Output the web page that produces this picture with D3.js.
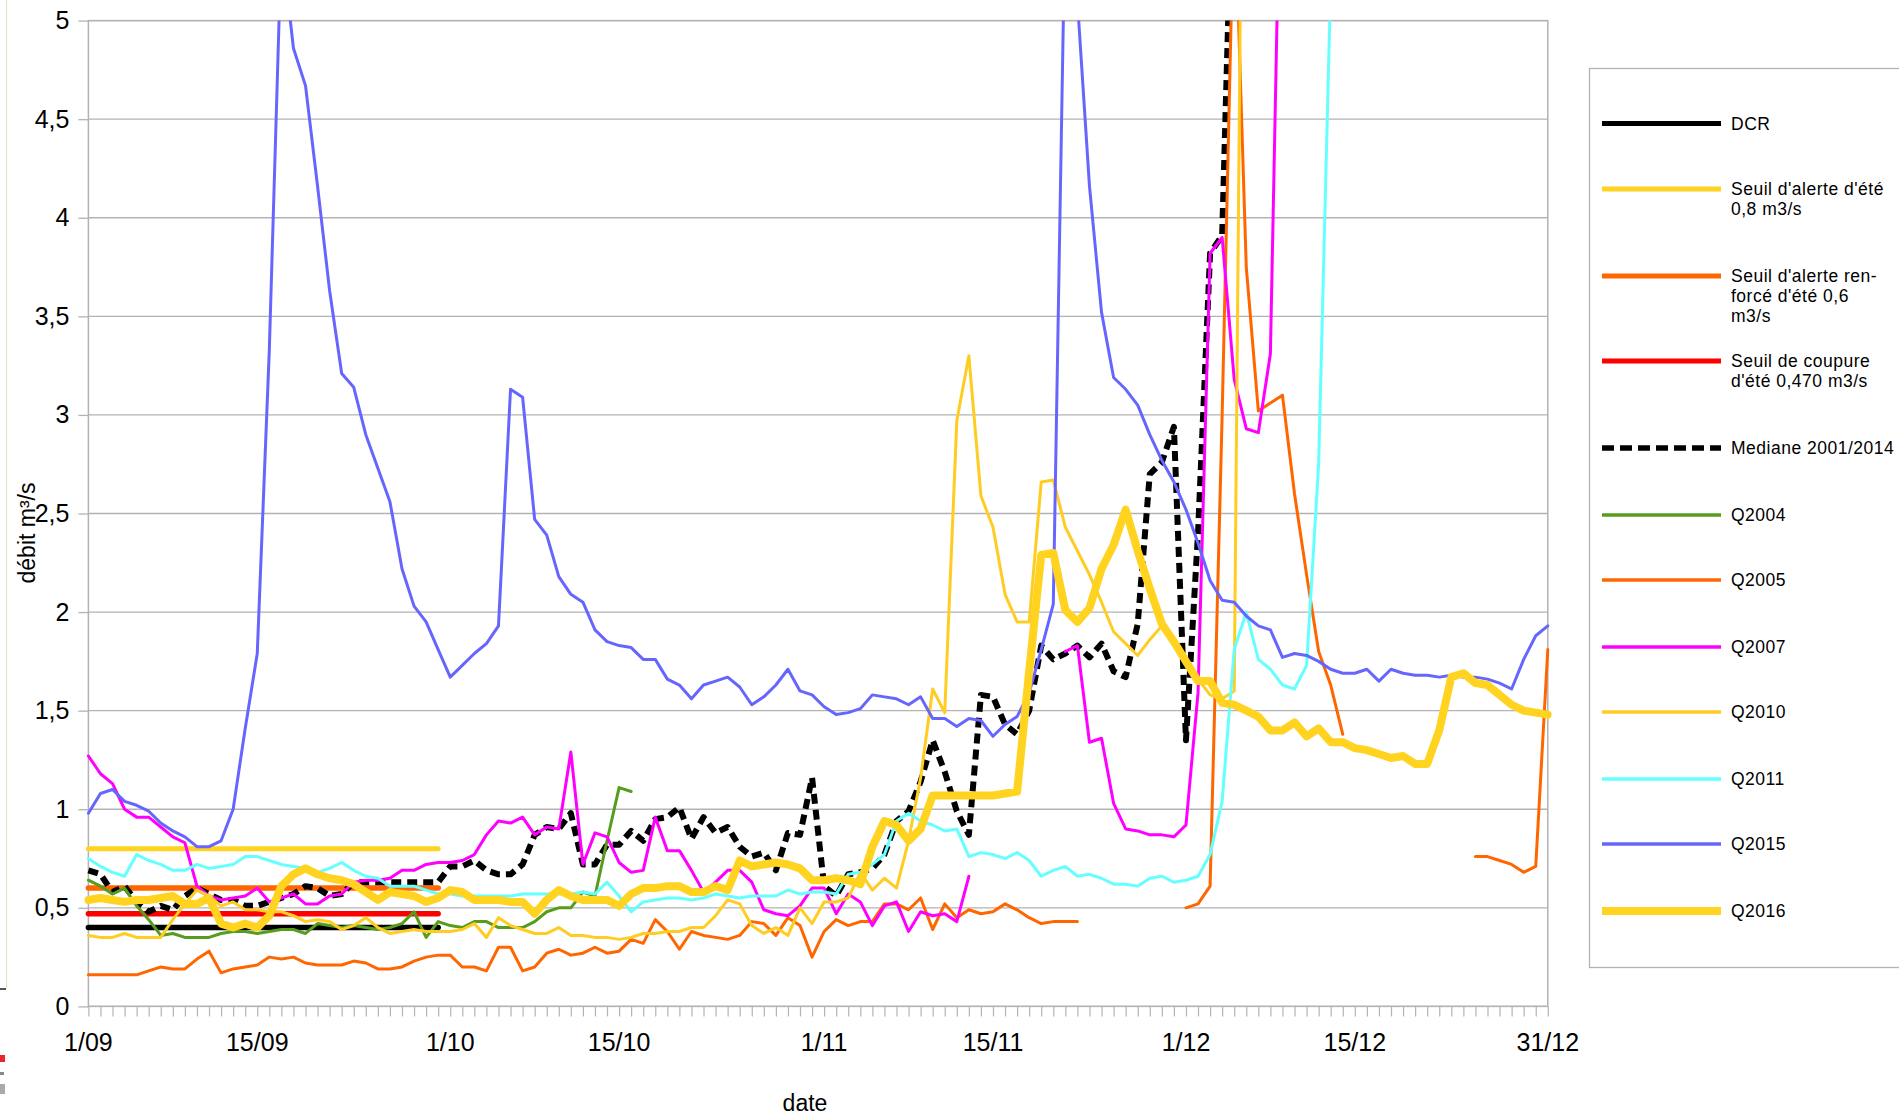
<!DOCTYPE html>
<html><head><meta charset="utf-8">
<script src="https://cdn.jsdelivr.net/npm/d3@7"></script>
<style>body{margin:0;background:#fff}svg{display:block}text{font-family:"Liberation Sans",Arial,sans-serif;fill:#000}</style>
</head><body><svg id="chart" width="1899" height="1117"></svg>
<script>
// ---------------- DATA ----------------
const nDays = 122; // 1/09 .. 31/12
const xTickDays = [0,14,30,44,61,75,91,105,121];
const xTickLabels = ["1/09","15/09","1/10","15/10","1/11","15/11","1/12","15/12","31/12"];
const yTicks = [0,0.5,1,1.5,2,2.5,3,3.5,4,4.5,5];

const thresholdDays = [0,29];
const dcr = [0.4,0.4];
const seuilAlerte = [0.8,0.8];
const seuilRenforce = [0.6,0.6];
const seuilCoupure = [0.47,0.47];

const mediane = [0.69,0.67,0.58,0.61,0.53,0.48,0.51,0.49,0.56,0.60,0.57,0.54,0.54,0.51,0.51,0.53,0.55,0.57,0.61,0.60,0.56,0.57,0.63,0.63,0.63,0.63,0.63,0.63,0.63,0.63,0.71,0.71,
 0.74,0.69,0.67,0.67,0.72,0.87,0.91,0.90,0.98,0.72,0.72,0.82,0.82,0.89,0.84,0.95,0.96,1.01,0.85,0.96,0.88,0.91,0.81,0.76,0.78,0.69,0.88,0.87,1.16,
 0.61,0.56,0.67,0.68,0.70,0.77,0.94,0.99,1.14,1.35,1.19,0.99,0.87,1.58,1.57,1.43,1.38,1.50,1.83,1.76,1.79,1.83,1.77,1.84,1.70,1.67,1.94,2.70,2.76,2.94,1.35,2.40,3.82,3.91,6.1];

const q2004 = [0.64,0.61,0.57,0.60,0.51,0.44,0.36,0.37,0.35,0.35,0.35,0.37,0.38,0.38,0.37,0.38,0.39,0.39,0.37,0.42,0.41,0.40,0.41,0.40,0.39,0.40,0.42,0.48,0.35,0.43,0.41,0.40,0.43,0.43,0.40,0.40,0.40,0.43,0.48,0.50,0.50,0.58,0.56,0.84,1.11,1.09];

const q2005 = [0.16,0.16,0.16,0.16,0.16,0.18,0.20,0.19,0.19,0.24,0.28,0.17,0.19,0.20,0.21,0.25,0.24,0.25,0.22,0.21,0.21,0.21,0.23,0.22,0.19,0.19,0.20,0.23,0.25,0.26,0.26,0.20,
 0.20,0.18,0.30,0.30,0.18,0.20,0.27,0.29,0.26,0.27,0.30,0.27,0.28,0.34,0.32,0.44,0.38,0.29,0.38,0.36,0.35,0.34,0.36,0.43,0.42,0.36,0.45,0.41,0.25,
 0.38,0.44,0.41,0.43,0.43,0.52,0.52,0.49,0.55,0.39,0.52,0.45,0.49,0.47,0.48,0.52,0.49,0.45,0.42,0.43,0.43,0.43,
 null,null,null,null,null,null,null,null,
 0.50,0.52,0.61,3.0,5.7,3.75,3.02,3.06,3.10,2.60,2.19,1.80,1.63,1.38,
 null,null,null,null,null,null,null,null,null,null,
 0.76,0.76,0.74,0.72,0.68,0.71,1.81];

const q2007 = [1.27,1.18,1.13,1.00,0.96,0.96,0.91,0.86,0.83,0.61,0.56,0.54,0.55,0.56,0.60,0.53,0.55,0.57,0.52,0.52,0.56,0.57,0.63,0.64,0.64,0.65,0.69,0.69,0.72,0.73,0.73,0.74,
 0.77,0.87,0.94,0.93,0.96,0.87,0.91,0.90,1.29,0.72,0.88,0.86,0.73,0.68,0.69,0.96,0.79,0.79,0.69,0.58,0.63,0.69,0.69,0.63,0.49,0.47,0.46,0.51,0.60,
 0.60,0.47,0.57,0.53,0.41,0.51,0.53,0.38,0.48,0.46,0.47,0.43,0.66,
 null,null,null,null,null,null,null,
 1.80,1.83,1.34,1.36,1.03,0.90,0.89,0.87,0.87,0.86,0.92,1.59,3.82,3.90,3.18,2.93,2.91,3.31,6.4];

const q2010 = [0.36,0.35,0.35,0.37,0.35,0.35,0.35,0.44,0.52,0.59,0.56,0.51,0.53,0.49,0.49,0.48,0.48,0.46,0.43,0.44,0.43,0.39,0.41,0.45,0.40,0.37,0.38,0.39,0.38,0.38,0.38,0.39,
 0.42,0.35,0.45,0.41,0.39,0.37,0.37,0.40,0.36,0.36,0.35,0.35,0.34,0.35,0.37,0.37,0.38,0.38,0.40,0.40,0.46,0.54,0.52,0.41,0.37,0.40,0.36,0.50,0.42,
 0.53,0.53,0.55,0.68,0.59,0.65,0.60,0.84,1.16,1.61,1.49,
 2.97,3.30,2.59,2.43,2.09,1.95,1.95,2.66,2.67,2.43,2.31,2.19,2.05,1.90,1.84,1.78,1.86,1.93,1.84,1.76,1.66,1.58,1.56,1.60,8.5];

const q2011 = [0.75,0.71,0.68,0.66,0.77,0.74,0.72,0.69,0.69,0.72,0.70,0.71,0.72,0.76,0.76,0.74,0.72,0.71,0.70,0.68,0.70,0.73,0.69,0.66,0.65,0.61,0.61,0.61,0.59,0.57,0.57,0.56,
 0.56,0.56,0.56,0.56,0.57,0.57,0.57,0.57,0.57,0.58,0.57,0.63,0.56,0.48,0.53,0.54,0.55,0.55,0.54,0.55,0.57,0.56,0.55,0.56,0.56,0.56,0.59,0.57,0.58,
 0.58,0.57,0.67,0.68,0.72,0.77,0.94,0.98,0.94,0.92,0.89,0.90,0.76,0.78,0.77,0.75,0.78,0.74,0.66,0.69,0.71,0.66,0.67,0.65,0.62,0.62,0.61,0.65,0.66,0.63,0.64,
 0.66,0.77,1.04,1.81,2.00,1.76,1.71,1.63,1.61,1.73,2.75,5.2,7.0];

const q2015 = [0.98,1.08,1.10,1.04,1.02,0.99,0.93,0.89,0.86,0.81,0.81,0.84,1.00,1.41,1.79,3.33,5.4,4.86,4.67,4.16,3.63,3.21,3.14,2.90,2.73,2.56,2.22,2.03,1.95,1.81,1.67,1.73,1.79,1.84,1.93,3.13,3.09,2.47,2.39,2.18,2.09,2.05,1.91,
 1.85,1.83,1.82,1.76,1.76,1.66,1.63,1.56,1.63,1.65,1.67,1.62,1.53,1.57,1.63,1.71,1.60,
 1.58,1.52,1.48,1.49,1.51,1.58,1.57,1.56,1.53,1.57,1.46,1.46,1.42,1.46,1.45,1.37,1.43,1.47,1.59,1.81,
 2.04,5.6,5.1,4.16,3.52,3.19,3.13,3.05,2.90,2.77,2.66,2.52,2.35,2.16,2.06,2.05,1.98,1.93,1.91,1.77,1.79,
 1.78,1.75,1.71,1.69,1.69,1.71,1.65,1.71,1.69,1.68,1.68,1.67,1.68,1.67,1.67,1.66,1.64,1.61,1.76,1.88,1.93];

const q2016 = [0.54,0.55,0.54,0.53,0.54,0.54,0.55,0.56,0.52,0.52,0.55,0.42,0.40,0.42,0.40,0.46,0.61,0.67,0.70,0.67,0.65,0.64,0.62,0.58,0.54,0.58,0.57,0.56,0.53,0.55,0.59,0.58,
 0.54,0.54,0.54,0.53,0.53,0.47,0.54,0.59,0.56,0.54,0.54,0.54,0.51,0.57,0.60,0.60,0.61,0.61,0.58,0.58,0.61,0.59,0.74,0.71,0.72,0.73,0.72,0.70,0.64,
 0.64,0.65,0.64,0.62,0.81,0.94,0.92,0.84,0.90,1.07,1.07,1.07,1.07,1.07,1.07,1.08,1.09,
 1.70,2.29,2.30,2.01,1.95,2.02,2.22,2.34,2.52,2.31,2.12,1.94,1.85,1.75,1.65,1.65,1.54,1.53,1.50,1.47,1.40,1.40,1.44,1.37,1.41,1.34,1.34,1.31,1.30,1.28,1.26,1.27,1.23,1.23,1.40,1.67,1.69,1.64,1.63,1.58,1.53,1.50,1.49,1.48];

// ---------------- CHART ----------------
const svg = d3.select("#chart");
const plot = {left: 88.4, right: 1547.8, top: 20.6, bottom: 1006.4};
const x = d3.scaleLinear().domain([0, nDays - 1]).range([plot.left, plot.right]);
const y = d3.scaleLinear().domain([0, 5]).range([plot.bottom, plot.top]);
const grid = "#b3b3b3";

// left-edge artefacts of the original screenshot
svg.append("line").attr("x1",6.5).attr("x2",6.5).attr("y1",0).attr("y2",989).attr("stroke","#dde8cc").attr("stroke-width",1.2);
svg.append("line").attr("x1",0).attr("x2",6).attr("y1",989).attr("y2",989).attr("stroke","#555").attr("stroke-width",2);
svg.append("rect").attr("x",0).attr("y",1055).attr("width",5).attr("height",7).attr("fill","#e8272a");
svg.append("rect").attr("x",0).attr("y",1072).attr("width",4).attr("height",3).attr("fill","#888");
svg.append("rect").attr("x",0).attr("y",1084).attr("width",5).attr("height",10).attr("fill","#aaa");

// gridlines
svg.append("g").selectAll("line").data(yTicks).join("line")
  .attr("x1", plot.left).attr("x2", plot.right)
  .attr("y1", d => y(d)).attr("y2", d => y(d))
  .attr("stroke", grid).attr("stroke-width", 1.3);
// frame
svg.append("rect").attr("x", plot.left).attr("y", plot.top)
  .attr("width", plot.right - plot.left).attr("height", plot.bottom - plot.top)
  .attr("fill", "none").attr("stroke", grid).attr("stroke-width", 1.5);

// y axis
const yAxis = svg.append("g").attr("transform", `translate(${plot.left},0)`)
  .call(d3.axisLeft(y).tickValues(yTicks).tickSize(10).tickPadding(9)
    .tickFormat(d => String(d).replace(".", ",")));
yAxis.select(".domain").remove();
yAxis.selectAll(".tick line").attr("stroke", grid).attr("stroke-width", 1.3);
yAxis.selectAll(".tick text").attr("font-size", 25).attr("font-family", '"Liberation Sans",Arial,sans-serif').attr("fill", "#000");

// x axis (a tick for every day)
const xAxis = svg.append("g").attr("transform", `translate(0,${plot.bottom})`)
  .call(d3.axisBottom(x).tickValues(d3.range(nDays)).tickSize(10).tickFormat(""));
xAxis.select(".domain").remove();
xAxis.selectAll(".tick line").attr("stroke", grid).attr("stroke-width", 1.2);
svg.append("g").selectAll("text").data(xTickDays).join("text")
  .attr("x", d => x(d)).attr("y", 1051).attr("text-anchor", "middle")
  .attr("font-size", 25).text((d, i) => xTickLabels[i]);

// axis titles
svg.append("text").attr("x", 805).attr("y", 1111).attr("text-anchor", "middle").attr("font-size", 23).text("date");
svg.append("text").attr("transform", "translate(27,533) rotate(-90)").attr("text-anchor", "middle")
  .attr("dominant-baseline", "central").attr("font-size", 23).text("débit m³/s");

// series
const series = [
  {name: "DCR", lines: ["DCR"], days: thresholdDays, values: dcr, color: "#000000", width: 5.5, lw: 5},
  {name: "s08", lines: ["Seuil d'alerte d'été", "0,8 m3/s"], days: thresholdDays, values: seuilAlerte, color: "#ffd320", width: 5, lw: 5},
  {name: "s06", lines: ["Seuil d'alerte ren-", "forcé d'été 0,6", "m3/s"], days: thresholdDays, values: seuilRenforce, color: "#ff6600", width: 5.5, lw: 5},
  {name: "s047", lines: ["Seuil de coupure", "d'été 0,470 m3/s"], days: thresholdDays, values: seuilCoupure, color: "#ff0000", width: 5.5, lw: 5},
  {name: "med", lines: ["Mediane 2001/2014"], values: mediane, color: "#000000", width: 6, dash: "10,6", lw: 5.5},
  {name: "q2004", lines: ["Q2004"], values: q2004, color: "#579d1c", width: 3, lw: 3.5},
  {name: "q2005", lines: ["Q2005"], values: q2005, color: "#ff6600", width: 3, lw: 3.5},
  {name: "q2007", lines: ["Q2007"], values: q2007, color: "#ff00ff", width: 3, lw: 3.5},
  {name: "q2010", lines: ["Q2010"], values: q2010, color: "#ffcc22", width: 3, lw: 3.5},
  {name: "q2011", lines: ["Q2011"], values: q2011, color: "#66ffff", width: 3, lw: 3.5},
  {name: "q2015", lines: ["Q2015"], values: q2015, color: "#6666ff", width: 3, lw: 3.5},
  {name: "q2016", lines: ["Q2016"], values: q2016, color: "#ffd320", width: 8, lw: 8}
];

svg.append("defs").append("clipPath").attr("id", "clip").append("rect")
  .attr("x", plot.left - 4).attr("y", plot.top).attr("width", plot.right - plot.left + 8).attr("height", plot.bottom - plot.top + 6);

const line = d3.line().defined(d => d.v != null).x(d => x(d.d)).y(d => y(d.v));
const gS = svg.append("g").attr("clip-path", "url(#clip)");
series.forEach(s => {
  const pts = s.values.map((v, i) => ({d: s.days ? s.days[i] : i, v}));
  gS.append("path").attr("d", line(pts)).attr("fill", "none")
    .attr("stroke", s.color).attr("stroke-width", s.width)
    .attr("stroke-linejoin", "round").attr("stroke-linecap", s.dash ? "butt" : "round")
    .attr("stroke-dasharray", s.dash || null);
});

// legend
const legendY = [123.5, 189, 276, 361, 448, 515, 580, 647, 712, 779, 844, 911];
const lg = svg.append("g");
lg.append("rect").attr("x", 1589.5).attr("y", 68.5).attr("width", 330).attr("height", 899)
  .attr("fill", "#fff").attr("stroke", grid).attr("stroke-width", 1.3);
series.forEach((s, i) => {
  const yy = legendY[i];
  lg.append("line").attr("x1", 1602).attr("x2", 1721).attr("y1", yy).attr("y2", yy)
    .attr("stroke", s.color).attr("stroke-width", s.lw).attr("stroke-dasharray", s.dash ? "12,6" : null);
  const t = lg.append("text").attr("x", 1731).attr("y", yy).attr("font-size", 17.5)
    .attr("letter-spacing", 0.5).attr("dominant-baseline", "central");
  s.lines.forEach((l, j) => t.append("tspan").attr("x", 1731).attr("dy", j === 0 ? 0 : 19.8).text(l));
});
</script></body></html>
